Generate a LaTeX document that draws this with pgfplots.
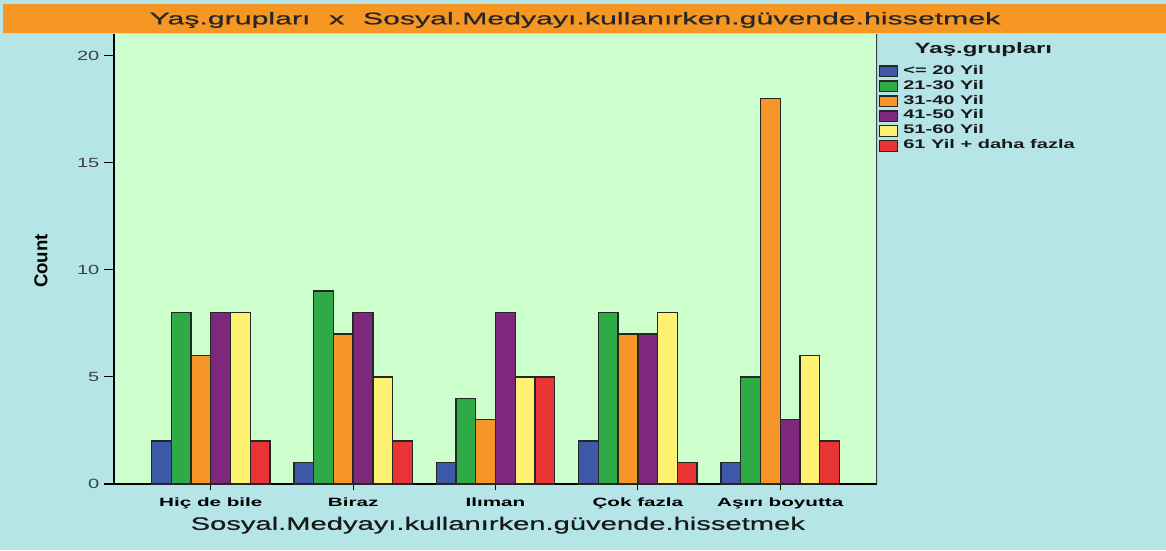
\documentclass[border=0pt]{standalone}
\usepackage{fontspec}
\usepackage{pgfplots}
\pgfplotsset{compat=1.18}
\setmainfont{Liberation Sans}
\newfontfamily\titlef[FakeStretch=1.78,FakeBold=0.6]{Liberation Sans}
\newfontfamily\xlabf[FakeStretch=1.62,FakeBold=0.6]{Liberation Sans}
\newfontfamily\xtickf[FakeStretch=1.72]{Liberation Sans}
\newfontfamily\ytickf[FakeStretch=1.5]{Liberation Sans}
\newfontfamily\countf[FakeStretch=1.0]{Liberation Sans}
\newfontfamily\legtf[FakeStretch=1.6]{Liberation Sans}
\newfontfamily\legf[FakeStretch=1.6]{Liberation Sans}
\definecolor{bgcyan}{RGB}{181,229,230}
\definecolor{bandorange}{RGB}{246,150,35}
\definecolor{plotgreen}{RGB}{204,255,204}
\definecolor{cblue}{RGB}{62,88,168}
\definecolor{cgreen}{RGB}{46,170,70}
\definecolor{corange}{RGB}{246,150,40}
\definecolor{cpurple}{RGB}{125,40,125}
\definecolor{cyellow}{RGB}{255,242,115}
\definecolor{cred}{RGB}{232,52,52}
\pgfplotsset{sw/.style={legend image code/.code={\draw[##1] (0pt,-4pt) rectangle (13.5pt,4pt);}}}
\begin{document}
\begin{tikzpicture}
\begin{scope}[x=0.75pt,y=0.75pt]
\fill[bgcyan] (-114,-66) rectangle (1052,484);
\fill[bandorange] (-111,451) rectangle (1052,480);
\node[font=\titlef\fontsize{12.75}{15}\selectfont, text=black!85] at (461,464) {Yaş.grupları\hspace{14pt}x\hspace{14pt}Sosyal.Medyayı.kullanırken.güvende.hissetmek};
\end{scope}
\begin{axis}[
  at={(0,0)}, anchor=south west, scale only axis,
  width=572.25pt, height=337.5pt,
  xmin=-0.68, xmax=4.68, ymin=0, ymax=21,
  axis background/.style={fill=plotgreen},
  axis x line*=bottom, axis y line*=left,
  axis line style={black, line width=1pt},
  xtick={0,1,2,3,4},
  xticklabels={Hiç de bile, Biraz, Ilıman, Çok fazla, Aşırı boyutta},
  ytick={0,5,10,15,20},
  tick align=outside,
  major tick length=7.5pt,
  xtick style={/pgfplots/major tick length=4.5pt},
  tick style={black, line width=0.8pt},
  ybar, bar width=0.1385,
  /pgf/number format/assume math mode=true,
  yticklabel style={font=\ytickf\fontsize{10}{11}\selectfont, text=black!75},
  xticklabel style={font=\xtickf\bfseries\fontsize{9}{10}\selectfont, text=black, yshift=1pt},
  ylabel={Count},
  ylabel style={font=\countf\bfseries\fontsize{14}{16}\selectfont, at={(axis description cs:-0.0957,0.4956)}, anchor=center},
  xlabel={Sosyal.Medyayı.kullanırken.güvende.hissetmek},
  xlabel style={font=\xlabf\fontsize{13.5}{15}\selectfont, text=black!90, at={(axis description cs:0.503,-0.0915)}, anchor=center},
  legend style={at={(axis description cs:1.0026,0.9335)}, anchor=north west, draw=none, fill=none,
    inner sep=0pt, outer sep=0pt, row sep=0pt,
    font=\legf\bfseries\fontsize{9.4}{10}\selectfont, text=black!90,
    nodes={inner sep=0pt, text height=7.7pt, text depth=3.5pt},
    /tikz/every odd column/.append style={column sep=3.75pt}},
  legend cell align=left,
]
\addplot[draw=black!85, fill=cblue, line width=1pt, bar shift=-0.34625, sw] coordinates {(0,2) (1,1) (2,1) (3,2) (4,1)};
\addplot[draw=black!85, fill=cgreen, line width=1pt, bar shift=-0.20775, sw] coordinates {(0,8) (1,9) (2,4) (3,8) (4,5)};
\addplot[draw=black!85, fill=corange, line width=1pt, bar shift=-0.06925, sw] coordinates {(0,6) (1,7) (2,3) (3,7) (4,18)};
\addplot[draw=black!85, fill=cpurple, line width=1pt, bar shift=0.06925, sw] coordinates {(0,8) (1,8) (2,8) (3,7) (4,3)};
\addplot[draw=black!85, fill=cyellow, line width=1pt, bar shift=0.20775, sw] coordinates {(0,8) (1,5) (2,5) (3,8) (4,6)};
\addplot[draw=black!85, fill=cred, line width=1pt, bar shift=0.34625, sw] coordinates {(0,2) (1,2) (2,5) (3,1) (4,2)};
\legend{{<= 20 Yil},{21-30 Yil},{31-40 Yil},{41-50 Yil},{51-60 Yil},{61 Yil + daha fazla}}
\draw[black!75, line width=1pt] (rel axis cs:1,0) -- (rel axis cs:1,1);
\end{axis}
\begin{scope}[x=0.75pt,y=0.75pt]
\node[font=\legtf\bfseries\fontsize{11.25}{13}\selectfont, text=black!90, anchor=west] at (796,434) {Yaş.grupları};
\end{scope}
\end{tikzpicture}
\end{document}
